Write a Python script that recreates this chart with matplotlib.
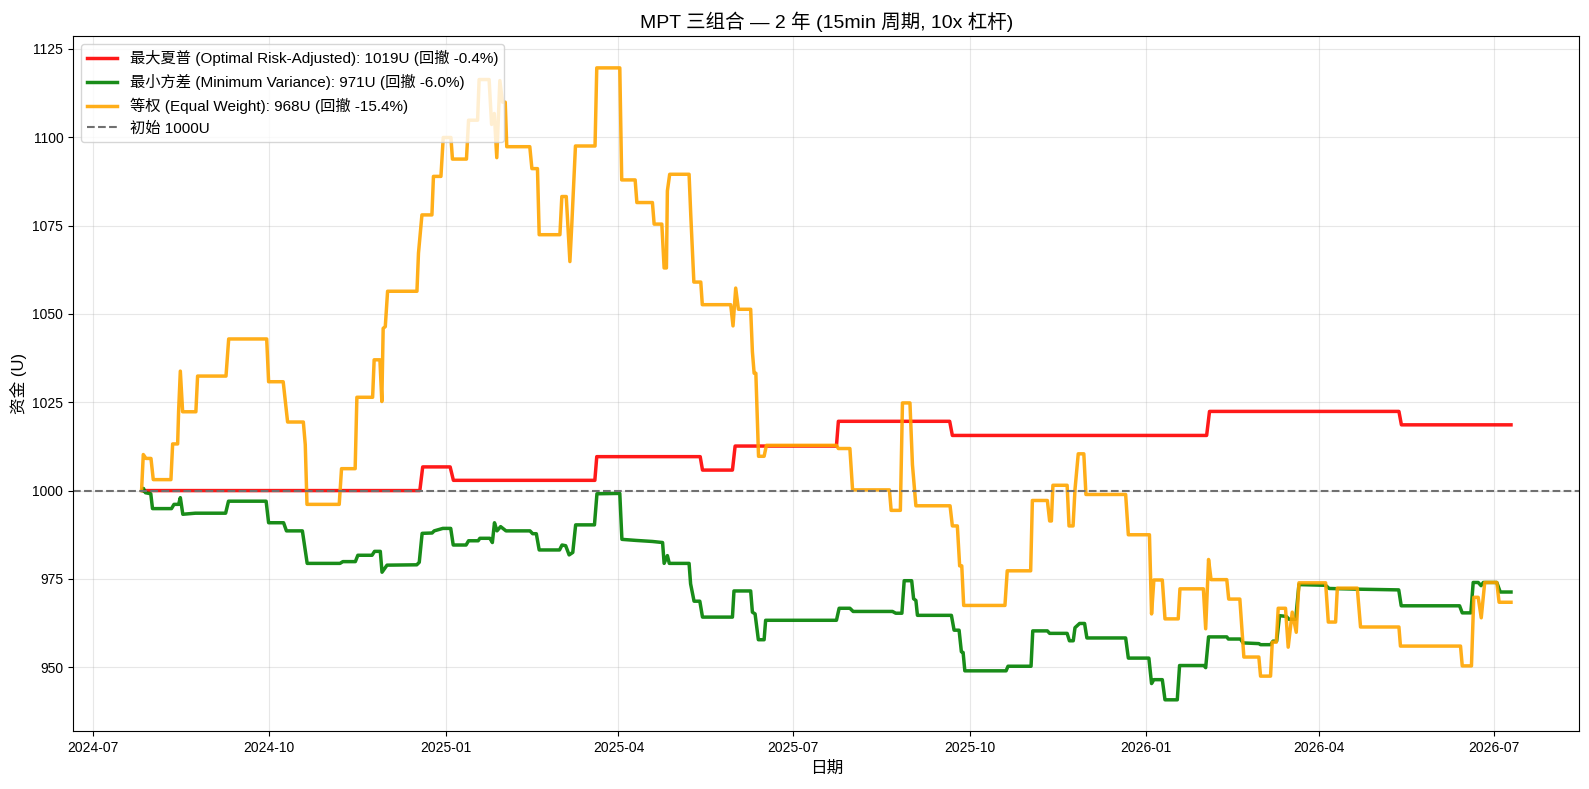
import numpy as np
import pandas as pd
import matplotlib
matplotlib.use("Agg")
import matplotlib.pyplot as plt

plt.rcParams['font.family'] = ['Liberation Sans', 'Noto Sans CJK SC', 'DejaVu Sans']
plt.rcParams['axes.unicode_minus'] = False

base = pd.Timestamp("2024-07-01")

# days since 2024-07-01 / equity (U)
sharpe_days = [26, 170.5, 172, 186.3, 188, 261.7, 262.7, 316.6, 317.8, 333.4, 334.8,
               387.6, 388.6, 446.6, 448, 580.5, 582, 680.7, 682, 739.1]
sharpe_vals = [1000, 1000, 1006.7, 1006.7, 1002.9, 1002.9, 1009.6, 1009.6, 1005.8, 1005.8,
               1012.6, 1012.6, 1019.6, 1019.6, 1015.6, 1015.6, 1022.4, 1022.4, 1018.6, 1018.6]

minvar_days = [26, 26.5, 27.5, 30.3, 31.2, 41.1, 42.4, 44.8, 45.7, 47.0, 53.5, 69.3, 70.8,
               90.4, 91.7, 99.5, 101.0, 109.3, 111.8, 128.9, 130.4, 136.9, 138.2, 145.6,
               146.9, 149.9, 150.8, 153.4, 168.9, 170.2, 171.7, 176.9, 178, 182.5, 186.6,
               187.9, 194.6, 195.9, 200.9, 201.8, 207.0, 208.3, 209.4, 210.7, 212.6, 215.4,
               227.9, 229.3, 231.2, 232.7, 243.3, 244.6, 246.5, 248.3, 250.2, 251.7, 261.5,
               262.8, 274.7, 275.8, 283.1, 291.7, 297.0, 297.8, 299.5, 300.5, 310.8, 311.6,
               313.4, 316.4, 317.8, 333.4, 334.2, 342.9, 343.8, 345.2, 346.9, 349.9, 350.7,
               387.6, 389.0, 394.6, 396.3, 416.8, 418.5, 421.7, 422.9, 426.8, 427.8, 429.0,
               429.8, 447.5, 448.9, 451.5, 452.7, 453.6, 454.5, 476.0, 477.0, 489.0, 489.9,
               497.5, 498.7, 507.8, 509.0, 511.0, 511.9, 514.3, 516.9, 518.1, 538.3, 539.7,
               550.4, 551.8, 553.0, 557.4, 558.8, 565.2, 566.4, 579.1, 580.0, 581.5, 591.0,
               591.8, 598.1, 599.5, 607.7, 608.6, 613.8, 615.1, 617.0, 618.5, 622.0, 623.4,
               626.9, 628.6, 642.5, 644.3, 659.9, 680.6, 681.9, 712.3, 713.7, 718.2, 719.4,
               722.0, 723.5, 724.7, 731.7, 733.5, 739.1]
minvar_vals = [1000.0, 1000.6, 999.4, 999.1, 994.9, 994.9, 996.1, 996.1, 998.0, 993.3, 993.6,
               993.6, 997.0, 997.0, 990.9, 990.9, 988.6, 988.6, 979.4, 979.4, 979.9, 979.9,
               981.7, 981.7, 982.8, 982.8, 976.9, 978.9, 979.0, 979.7, 987.9, 988.0, 988.6,
               989.3, 989.3, 984.6, 984.6, 985.8, 985.8, 986.5, 986.5, 985.3, 990.9, 988.6,
               989.8, 988.6, 988.6, 987.8, 987.8, 983.2, 983.2, 984.6, 984.4, 981.8, 982.5,
               990.3, 990.3, 999.1, 999.2, 986.2, 985.9, 985.6, 985.3, 979.4, 981.6, 979.4,
               979.4, 973.6, 968.7, 968.7, 964.2, 964.2, 971.6, 971.6, 965.6, 965.1, 957.8,
               957.8, 963.3, 963.3, 966.7, 966.7, 965.8, 965.8, 965.3, 965.3, 974.5, 974.5,
               969.4, 968.9, 964.7, 964.7, 960.5, 960.5, 954.4, 954.2, 949.0, 949.0, 950.3,
               950.3, 960.3, 960.3, 959.6, 959.6, 957.5, 957.5, 961.2, 962.4, 962.4, 958.3,
               958.3, 952.6, 952.6, 945.4, 946.5, 946.5, 940.8, 940.8, 950.5, 950.5, 949.9,
               958.6, 958.6, 958.0, 958.0, 956.9, 956.7, 956.4, 956.4, 957.4, 957.4, 964.6,
               964.4, 963.6, 963.6, 973.4, 973.2, 972.3, 972.1, 971.9, 967.4, 967.4, 965.4,
               965.4, 974.0, 974.0, 973.1, 974.0, 974.0, 971.3, 971.3]

equal_days = [25.5, 26.4, 27.8, 30.4, 31.6, 40.8, 41.7, 44.3, 44.8, 45.7, 46.9, 53.8, 54.7,
              69.5, 70.9, 90.7, 91.7, 99.3, 101.6, 109.8, 110.8, 111.7, 128.5, 129.7, 136.8,
              137.7, 145.9, 146.7, 149.7, 150.7, 151.4, 152.5, 153.7, 169.0, 169.8, 171.6,
              176.8, 177.6, 181.5, 182.7, 186.7, 187.5, 194.8, 195.9, 200.6, 201.4, 206.6,
              207.9, 209.3, 210.6, 212.2, 213.6, 215.0, 215.8, 227.8, 228.9, 231.8, 232.7,
              243.5, 244.5, 246.8, 248.7, 249.7, 251.6, 261.8, 262.7, 274.7, 275.7, 282.7,
              283.6, 291.7, 292.6, 296.6, 297.8, 299.0, 299.5, 300.7, 310.8, 311.7, 313.3,
              316.9, 317.7, 332.5, 333.7, 335.1, 336.5, 342.9, 343.8, 344.7, 345.6, 347.0,
              349.9, 351.1, 387.6, 388.6, 394.6, 396.0, 415.2, 416.1, 420.9, 422.0, 425.9,
              427.2, 429.0, 446.8, 448.0, 450.6, 451.8, 452.9, 453.9, 475.4, 476.6, 488.8,
              489.7, 497.5, 498.7, 499.6, 500.4, 507.8, 508.8, 510.9, 511.9, 513.6, 516.5,
              517.6, 538.3, 539.7, 550.7, 551.8, 553.0, 557.4, 558.8, 565.7, 566.6, 578.8,
              580.0, 581.5, 582.8, 591.0, 592.0, 597.8, 599.9, 607.7, 608.6, 613.8, 614.7,
              616.8, 617.8, 621.6, 623.0, 625.1, 627.2, 628.6, 642.5, 643.9, 647.7, 648.6,
              659.0, 660.7, 680.7, 681.5, 712.8, 713.7, 718.5, 719.7, 722.0, 723.6, 725.4,
              731.7, 732.9, 739.1]
equal_vals = [1000.0, 1010.2, 1009.1, 1009.1, 1003.1, 1003.1, 1013.2, 1013.2, 1022.4, 1033.8,
              1022.3, 1022.3, 1032.4, 1032.4, 1042.9, 1042.9, 1030.8, 1030.8, 1019.4, 1019.4,
              1013.0, 996.1, 996.1, 1006.2, 1006.2, 1026.4, 1026.4, 1037.0, 1037.0, 1025.2,
              1045.9, 1046.4, 1056.4, 1056.4, 1067.2, 1078.0, 1078.0, 1088.9, 1088.9, 1099.9,
              1099.9, 1093.8, 1093.8, 1104.8, 1104.8, 1116.3, 1116.3, 1103.6, 1106.7, 1094.2,
              1116.0, 1109.9, 1109.9, 1097.3, 1097.3, 1091.1, 1091.1, 1072.4, 1072.4, 1083.2,
              1083.2, 1064.8, 1075.4, 1097.5, 1097.5, 1119.6, 1119.6, 1087.9, 1087.9, 1081.5,
              1081.5, 1075.4, 1075.4, 1063.0, 1063.0, 1084.8, 1089.5, 1089.5, 1077.8, 1059.0,
              1059.0, 1052.6, 1052.6, 1046.6, 1057.3, 1051.3, 1051.3, 1039.3, 1033.2, 1033.2,
              1009.7, 1009.7, 1012.8, 1012.8, 1011.9, 1011.9, 1000.2, 1000.2, 994.4, 994.4,
              1024.8, 1024.8, 1007.3, 995.7, 995.7, 990.0, 990.0, 978.7, 978.7, 967.5, 967.5,
              977.3, 977.3, 997.2, 997.2, 991.4, 991.4, 1001.5, 1001.5, 990.0, 990.0, 1000.3,
              1010.4, 1010.4, 998.9, 998.9, 987.5, 987.5, 965.1, 974.7, 974.7, 963.7, 963.7,
              972.2, 972.2, 960.9, 980.5, 974.8, 974.8, 969.3, 969.3, 952.9, 952.9, 947.5,
              947.5, 957.1, 957.1, 966.7, 966.7, 955.7, 965.6, 959.9, 973.9, 973.9, 962.8,
              962.8, 972.4, 972.4, 961.4, 961.4, 956.0, 956.0, 950.4, 950.4, 969.8, 969.8,
              964.0, 974.0, 974.0, 968.4, 968.4]

labels = ["最大夏普 (Optimal Risk-Adjusted): 1019U (回撤 -0.4%)",
          "最小方差 (Minimum Variance): 971U (回撤 -6.0%)",
          "等权 (Equal Weight): 968U (回撤 -15.4%)"]


def to_dates(days):
    return base + pd.to_timedelta(np.array(days), unit="D")


fig, ax = plt.subplots(figsize=(15.89, 7.89), dpi=100)
fig.subplots_adjust(left=0.046, right=0.994, bottom=0.073, top=0.954)

ax.plot(to_dates(sharpe_days), sharpe_vals, color="red", alpha=0.9, linewidth=2.5, label=labels[0])
ax.plot(to_dates(minvar_days), minvar_vals, color="green", alpha=0.9, linewidth=2.5, label=labels[1])
ax.plot(to_dates(equal_days), equal_vals, color="orange", alpha=0.9, linewidth=2.5, label=labels[2])
ax.axhline(1000, color="#707070", linestyle="--", linewidth=1.5, label="初始 1000U")

ax.set_title("MPT 三组合 — 2 年 (15min 周期, 10x 杠杆)", fontsize=14)
ax.set_xlabel("日期", fontsize=12)
ax.set_ylabel("资金 (U)", fontsize=12)
ax.legend(loc="upper left", fontsize=11)
ax.grid(True, alpha=0.3)

fig.savefig("out.png", dpi=100)
